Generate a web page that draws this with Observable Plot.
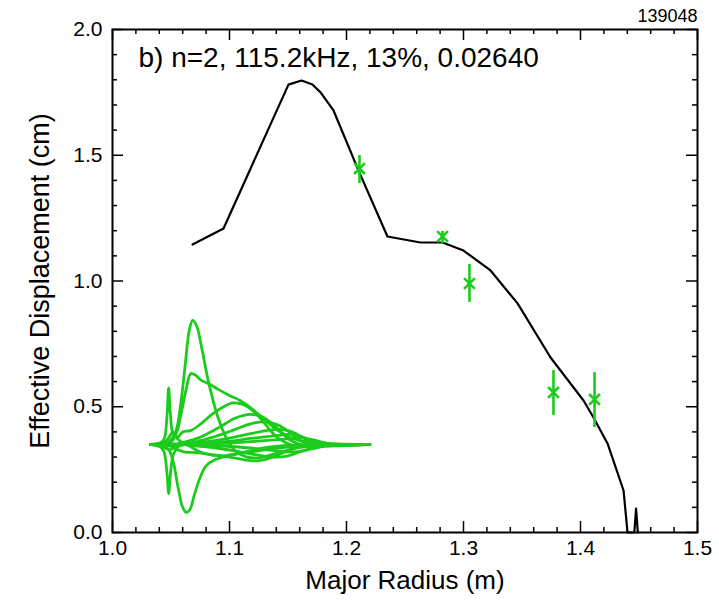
<!DOCTYPE html>
<html><head><meta charset="utf-8">
<script src="https://cdn.jsdelivr.net/npm/d3@7"></script>
<script src="https://cdn.jsdelivr.net/npm/@observablehq/plot@0.6"></script>
<style>body{margin:0;background:#fff;}</style>
</head><body><div id="chart"></div>
<script>
const shotLabel = "139048";
const titleText = "b) n=2, 115.2kHz, 13%, 0.02640";
const xLabel = "Major Radius (m)";
const yLabel = "Effective Displacement (cm)";
const xTicks = [1.0, 1.1, 1.2, 1.3, 1.4, 1.5];
const xMinor = [1.02,1.04,1.06,1.08,1.12,1.14,1.16,1.18,1.22,1.24,1.26,1.28,1.32,1.34,1.36,1.38,1.42,1.44,1.46,1.48];
const yTicks = [0.0, 0.5, 1.0, 1.5, 2.0];
const yMinor = [0.1,0.2,0.3,0.4,0.6,0.7,0.8,0.9,1.1,1.2,1.3,1.4,1.6,1.7,1.8,1.9];

// black model curve
const modelR = [1.0684,1.0949,1.1504,1.1615,1.1709,1.1778,1.1889,1.2103,1.2350,1.2632,1.2821,1.3000,1.3231,1.3462,1.3744,1.4026,1.4111,1.4231,1.4368,1.4402,1.4460,1.4475,1.4490];
const modelD = [1.145,1.209,1.781,1.797,1.781,1.750,1.678,1.439,1.177,1.153,1.153,1.121,1.042,0.911,0.696,0.525,0.457,0.354,0.167,0.000,0.000,0.095,0.000];

// green measured points with error bars
const obsR  = [1.2111,1.2821,1.3051,1.3769,1.4120];
const obsD  = [1.447,1.177,0.990,0.557,0.529];
const obsLo = [1.388,1.149,0.915,0.465,0.417];
const obsHi = [1.499,1.197,1.066,0.644,0.636];

// green eigenfunction bundle (R, displacement)
const curveA = [[1.0325,0.350],[1.040,0.352],[1.048,0.36],[1.054,0.40],[1.058,0.50],[1.062,0.66],[1.0655,0.80],[1.0685,0.843],[1.072,0.82],[1.076,0.74],[1.082,0.60],[1.090,0.46],[1.098,0.37],[1.106,0.32],[1.115,0.30],[1.126,0.298],[1.140,0.315],[1.160,0.338],[1.185,0.348],[1.220,0.350]];
const curveB = [[1.0325,0.35],[1.042,0.348],[1.048,0.33],[1.052,0.28],[1.056,0.18],[1.060,0.10],[1.063,0.08],[1.066,0.09],[1.070,0.15],[1.075,0.22],[1.080,0.265],[1.088,0.29],[1.098,0.305],[1.110,0.315],[1.125,0.325],[1.145,0.338],[1.170,0.347],[1.220,0.35]];
const curveC = [[1.0325,0.35],[1.042,0.352],[1.050,0.36],[1.055,0.40],[1.059,0.48],[1.063,0.57],[1.067,0.632],[1.071,0.625],[1.076,0.605],[1.083,0.59],[1.090,0.57],[1.100,0.545],[1.109,0.525],[1.117,0.50],[1.124,0.473],[1.131,0.445],[1.138,0.417],[1.145,0.395],[1.152,0.378],[1.167,0.358],[1.190,0.352],[1.220,0.35]];
const curveD = [[1.0325,0.35],[1.040,0.355],[1.044,0.37],[1.0465,0.46],[1.048,0.575],[1.0495,0.47],[1.052,0.39],[1.056,0.38],[1.060,0.40],[1.0667,0.405],[1.075,0.43],[1.085,0.47],[1.095,0.50],[1.103,0.515],[1.112,0.508],[1.121,0.48],[1.129,0.44],[1.136,0.40],[1.143,0.37],[1.152,0.35],[1.165,0.343],[1.185,0.348],[1.220,0.35]];
const curveE = [[1.0325,0.35],[1.040,0.345],[1.044,0.32],[1.0465,0.24],[1.048,0.155],[1.0495,0.23],[1.052,0.31],[1.057,0.345],[1.062,0.36],[1.070,0.37],[1.080,0.39],[1.092,0.42],[1.105,0.455],[1.118,0.47],[1.128,0.46],[1.137,0.43],[1.145,0.395],[1.153,0.365],[1.162,0.348],[1.180,0.345],[1.220,0.35]];
const curveF = [[1.0325,0.35],[1.045,0.36],[1.052,0.40],[1.056,0.37],[1.062,0.355],[1.075,0.365],[1.090,0.385],[1.105,0.41],[1.118,0.432],[1.130,0.44],[1.140,0.43],[1.148,0.41],[1.156,0.38],[1.164,0.358],[1.175,0.345],[1.220,0.35]];
const curveG = [[1.0325,0.35],[1.048,0.352],[1.055,0.345],[1.065,0.352],[1.080,0.36],[1.100,0.375],[1.120,0.395],[1.140,0.41],[1.150,0.405],[1.160,0.385],[1.168,0.362],[1.178,0.348],[1.220,0.35]];
const curveH = [[1.0325,0.35],[1.050,0.35],[1.070,0.352],[1.095,0.36],[1.120,0.375],[1.140,0.385],[1.152,0.39],[1.162,0.38],[1.172,0.362],[1.183,0.35],[1.220,0.35]];
const curveI = [[1.0325,0.35],[1.060,0.35],[1.100,0.355],[1.130,0.365],[1.150,0.372],[1.162,0.376],[1.172,0.368],[1.182,0.356],[1.195,0.35],[1.220,0.35]];
const curveJ = [[1.0325,0.35],[1.042,0.34],[1.050,0.33],[1.055,0.35],[1.060,0.355],[1.067,0.34],[1.075,0.32],[1.085,0.308],[1.095,0.305],[1.105,0.312],[1.118,0.325],[1.135,0.34],[1.160,0.348],[1.220,0.35]];
const curveK = [[1.0325,0.35],[1.048,0.345],[1.055,0.33],[1.062,0.32],[1.072,0.318],[1.085,0.31],[1.100,0.30],[1.112,0.29],[1.120,0.285],[1.130,0.29],[1.140,0.305],[1.150,0.325],[1.160,0.34],[1.175,0.348],[1.220,0.35]];
const curveL = [[1.0325,0.35],[1.055,0.352],[1.070,0.345],[1.090,0.335],[1.110,0.32],[1.128,0.305],[1.140,0.30],[1.150,0.305],[1.160,0.32],[1.172,0.338],[1.185,0.348],[1.220,0.35]];
const curveM = [[1.0325,0.35],[1.060,0.35],[1.090,0.345],[1.120,0.335],[1.140,0.325],[1.155,0.32],[1.166,0.328],[1.178,0.34],[1.192,0.348],[1.220,0.35]];

const green = "#1ccc1c";
const model = modelR.map((r, i) => ({R: r, D: modelD[i]}));
const obs = obsR.map((r, i) => ({R: r, D: obsD[i], lo: obsLo[i], hi: obsHi[i]}));
const bundle = [curveA,curveB,curveC,curveD,curveE,curveF,curveG,curveH,curveI,curveJ,curveK,curveL,curveM]
  .flatMap((c, k) => c.map(([r, d]) => ({id: k, R: r, D: d})));

const W = 719, H = 600, mL = 112, mR = 22, mT = 29, mB = 68;
const frameW = W - mL - mR, frameH = H - mT - mB;
const majorLen = 11, minorLen = 5;
const tk = {stroke: "black", strokeWidth: 1.5};

const chart = Plot.plot({
  width: W, height: H,
  marginLeft: mL, marginRight: mR, marginTop: mT, marginBottom: mB,
  style: {fontFamily: "'Liberation Sans', Arial, Helvetica, sans-serif", background: "#fff", color: "#000", overflow: "visible"},
  x: {domain: [1.0, 1.5]},
  y: {domain: [0, 2.0]},
  marks: [
    Plot.line(bundle, {x: "R", y: "D", z: "id", stroke: green, strokeWidth: 2.8, curve: "catmull-rom"}),
    Plot.line(model, {x: "R", y: "D", stroke: "black", strokeWidth: 2.2}),
    Plot.ruleX(obs, {x: "R", y1: "lo", y2: "hi", stroke: green, strokeWidth: 2.6}),
    Plot.dot(obs, {x: "R", y: "D", symbol: "times", r: 5, stroke: green, strokeWidth: 2.6}),
    Plot.axisX({ticks: xTicks, anchor: "bottom", tickSize: 0, tickPadding: 8, fontSize: 21, tickFormat: d => d.toFixed(1), label: null}),
    Plot.axisY({ticks: yTicks, anchor: "left", tickSize: 0, tickPadding: 10, fontSize: 21, tickFormat: d => d.toFixed(1), label: null}),
    // inward ticks on all four sides
    Plot.tickX(xTicks, {x: d => d, insetTop: frameH - majorLen, ...tk}),
    Plot.tickX(xMinor, {x: d => d, insetTop: frameH - minorLen, ...tk}),
    Plot.tickX(xTicks, {x: d => d, insetBottom: frameH - majorLen, ...tk}),
    Plot.tickX(xMinor, {x: d => d, insetBottom: frameH - minorLen, ...tk}),
    Plot.tickY(yTicks, {y: d => d, insetRight: frameW - majorLen, ...tk}),
    Plot.tickY(yMinor, {y: d => d, insetRight: frameW - minorLen, ...tk}),
    Plot.tickY(yTicks, {y: d => d, insetLeft: frameW - majorLen, ...tk}),
    Plot.tickY(yMinor, {y: d => d, insetLeft: frameW - minorLen, ...tk}),
    Plot.frame({stroke: "black", strokeWidth: 2}),
    Plot.text([titleText], {text: d => d, frameAnchor: "top-left", dx: 26, dy: 29, textAnchor: "start", lineAnchor: "middle", fontSize: 28, fill: "black"}),
    Plot.text([shotLabel], {text: d => d, frameAnchor: "top-right", dy: -13, textAnchor: "end", lineAnchor: "middle", fontSize: 18, fill: "black"}),
    Plot.text([xLabel], {text: d => d, frameAnchor: "bottom", dy: 48, textAnchor: "middle", lineAnchor: "middle", fontSize: 26, fill: "black"}),
    Plot.text([yLabel], {text: d => d, frameAnchor: "left", dx: -72, rotate: -90, textAnchor: "middle", lineAnchor: "middle", fontSize: 27, fill: "black"})
  ]
});
document.getElementById("chart").appendChild(chart);
</script>
</body></html>
